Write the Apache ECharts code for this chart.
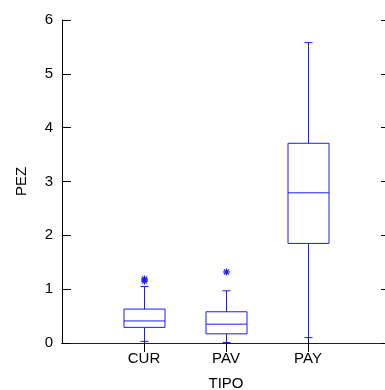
<!DOCTYPE html>
<html>
<head>
<meta charset="utf-8">
<script src="https://cdn.jsdelivr.net/npm/echarts@6/dist/echarts.min.js"></script>
<style>html,body{margin:0;padding:0;background:#fff;}#c{width:385px;height:390px;}</style>
</head>
<body>
<div id="c"></div>
<script>
// Data
var categories = ['', 'CUR', 'PAV', 'PAY', ''];
var boxCategories = ['CUR', 'PAV', 'PAY'];
// [lower whisker, q1, median, q3, upper whisker]
var boxCUR = [0.03, 0.29, 0.41, 0.63, 1.05];
var boxPAV = [0.01, 0.17, 0.35, 0.58, 0.97];
var boxPAY = [0.10, 1.85, 2.79, 3.71, 5.58];
var outlierCUR = [1.15, 1.19];
var outlierPAV = [1.32];
var outlierPAY = [];
var yTicks = [0, 1, 2, 3, 4, 5, 6];

var boxes = [boxCUR, boxPAV, boxPAY];
var outliers = [outlierCUR, outlierPAV, outlierPAY];
var boxData = boxes.map(function (b, i) {
  return [categories.indexOf(boxCategories[i])].concat(b);
});
var outData = [];
outliers.forEach(function (arr, i) {
  arr.forEach(function (v) { outData.push([categories.indexOf(boxCategories[i]), v]); });
});

var BLUE = '#1a1aff';
var chart = echarts.init(document.getElementById('c'), null, {renderer: 'canvas'});
var font = 'Liberation Sans, Arial, sans-serif';

chart.setOption({
  animation: false,
  backgroundColor: '#fff',
  grid: {left: 62, top: 20, width: 328, height: 323, containLabel: false, outerBoundsMode: 'none'},
  xAxis: [{
    type: 'category', data: categories, boundaryGap: false,
    name: 'TIPO', nameLocation: 'middle', nameGap: 33,
    nameTextStyle: {color: '#000', fontSize: 15, fontFamily: font},
    axisLine: {lineStyle: {color: '#000', width: 1}},
    axisTick: {show: true, inside: true, length: 9, lineStyle: {color: '#000'},
      interval: function (i) { return i > 0 && i < 4; }},
    axisLabel: {color: '#000', fontSize: 15, fontFamily: font, margin: 8,
      interval: 0},
    splitLine: {show: false}
  }, {
    type: 'category', data: categories, boundaryGap: false, position: 'top',
    axisLine: {lineStyle: {color: '#222', width: 1}},
    axisTick: {show: true, inside: true, length: 9, lineStyle: {color: '#000'},
      interval: function (i) { return i > 0 && i < 4; }},
    axisLabel: {show: false}, splitLine: {show: false}
  }],
  yAxis: [{
    type: 'value', min: yTicks[0], max: yTicks[yTicks.length - 1], interval: 1,
    name: 'PEZ', nameLocation: 'middle', nameGap: 33, nameRotate: 90,
    nameTextStyle: {color: '#000', fontSize: 15, fontFamily: font},
    axisLine: {show: true, lineStyle: {color: '#000', width: 1}},
    axisTick: {show: true, inside: true, length: 9, lineStyle: {color: '#000'}},
    axisLabel: {color: '#000', fontSize: 15, fontFamily: font, margin: 9},
    splitLine: {show: false}
  }, {
    type: 'value', min: yTicks[0], max: yTicks[yTicks.length - 1], interval: 1, position: 'right',
    axisLine: {show: false},
    axisTick: {show: true, inside: true, length: 9, lineStyle: {color: '#000'}},
    axisLabel: {show: false}, splitLine: {show: false}
  }],
  series: [{
    type: 'custom',
    data: boxData,
    xAxisIndex: 0, yAxisIndex: 0,
    renderItem: function (params, api) {
      var x = api.value(0);
      var lo = api.coord([x, api.value(1)]);
      var q1 = api.coord([x, api.value(2)]);
      var md = api.coord([x, api.value(3)]);
      var q3 = api.coord([x, api.value(4)]);
      var hi = api.coord([x, api.value(5)]);
      var band = api.size([1, 0])[0];
      var hw = band * 0.25;
      var cw = 4;
      var cx = Math.round(lo[0]) + 0.5;
      var style = {stroke: BLUE, lineWidth: 1, fill: null};
      function ln(x1, y1, x2, y2) {
        return {type: 'line', shape: {x1: x1, y1: y1, x2: x2, y2: y2}, style: style};
      }
      return {type: 'group', children: [
        {type: 'rect', shape: {x: Math.round(cx - hw), y: q3[1], width: Math.round(hw * 2), height: q1[1] - q3[1]}, style: style},
        ln(cx - hw, md[1], cx + hw, md[1]),
        ln(cx, q3[1], cx, hi[1]),
        ln(cx, q1[1], cx, lo[1]),
        ln(cx - cw, hi[1], cx + cw, hi[1]),
        ln(cx - cw, lo[1], cx + cw, lo[1])
      ]};
    }
  }, {
    type: 'custom',
    data: outData,
    xAxisIndex: 0, yAxisIndex: 0,
    renderItem: function (params, api) {
      var p = api.coord([api.value(0), api.value(1)]);
      var cx = Math.round(p[0]) + 0.5, cy = p[1];
      var r = 3.5, d = 2.6;
      var style = {stroke: BLUE, lineWidth: 1.2};
      return {type: 'group', children: [
        {type: 'line', shape: {x1: cx - r, y1: cy, x2: cx + r, y2: cy}, style: style},
        {type: 'line', shape: {x1: cx, y1: cy - r, x2: cx, y2: cy + r}, style: style},
        {type: 'line', shape: {x1: cx - d, y1: cy - d, x2: cx + d, y2: cy + d}, style: style},
        {type: 'line', shape: {x1: cx - d, y1: cy + d, x2: cx + d, y2: cy - d}, style: style}
      ]};
    }
  }]
});
</script>
</body>
</html>
